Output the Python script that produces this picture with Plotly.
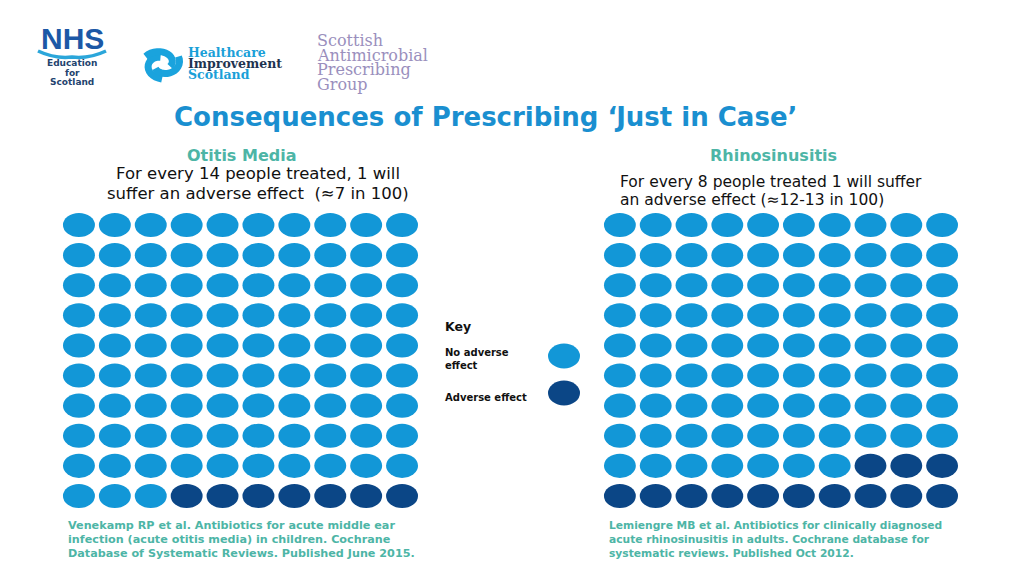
import math
import plotly.graph_objects as go

# page body has an 8px margin: figure is placed at (8, 8)
OFF = 8
W, H = 1024 - OFF, 576 - OFF

# ---------------- data ----------------
grid_rows = 10
grid_cols = 10
otitis_adverse = 7      # about 7 in 100
rhino_adverse = 13      # about 12-13 in 100
panel_titles = ["Otitis Media", "Rhinosinusitis"]
panel_texts = [
    ["For every 14 people treated, 1 will", "suffer an adverse effect  (≈7 in 100)"],
    ["For every 8 people treated 1 will suffer", "an adverse effect (≈12-13 in 100)"],
]
references = [
    ["Venekamp RP et al. Antibiotics for acute middle ear",
     "infection (acute otitis media) in children. Cochrane",
     "Database of Systematic Reviews. Published June 2015."],
    ["Lemiengre MB et al. Antibiotics for clinically diagnosed",
     "acute rhinosinusitis in adults. Cochrane database for",
     "systematic reviews. Published Oct 2012."],
]
key_labels = ["No adverse<br>effect", "Adverse effect"]
title_text = "Consequences of Prescribing ‘Just in Case’"

# ---------------- styles ----------------
LIGHT = "#1297d7"
DARK = "#0b4686"
TITLE_BLUE = "#1a8fd0"
TEAL = "#4db5a6"
FONT = "DejaVu Sans"


def px(x):
    return (x - OFF) / W


def py(y):
    return 1 - (y - OFF) / H


fig = go.Figure()

fig.update_layout(
    width=W, height=H,
    margin=dict(l=0, r=0, t=0, b=0),
    paper_bgcolor="white", plot_bgcolor="white",
    showlegend=False,
    xaxis=dict(domain=[px(61), px(420)], range=[-0.5, grid_cols - 0.5], visible=False, fixedrange=True),
    yaxis=dict(domain=[py(511), py(210)], range=[grid_rows - 0.5, -0.5], visible=False, fixedrange=True),
    xaxis2=dict(domain=[px(602), px(960)], range=[-0.5, grid_cols - 0.5], visible=False, fixedrange=True, anchor="y2"),
    yaxis2=dict(domain=[py(511), py(210)], range=[grid_rows - 0.5, -0.5], visible=False, fixedrange=True, anchor="x2"),
)

shapes = []
for (xr, yr, n_adv, name) in [("x", "y", otitis_adverse, panel_titles[0]),
                              ("x2", "y2", rhino_adverse, panel_titles[1])]:
    total = grid_rows * grid_cols
    xs, ys, cols, txt = [], [], [], []
    for i in range(total):
        r, c = divmod(i, grid_cols)
        adverse = i >= total - n_adv
        col = DARK if adverse else LIGHT
        xs.append(c)
        ys.append(r)
        cols.append(col)
        txt.append("Adverse effect" if adverse else "No adverse effect")
        shapes.append(dict(type="circle", xref=xr, yref=yr,
                           x0=c - 0.445, x1=c + 0.445, y0=r - 0.4, y1=r + 0.4,
                           fillcolor=col, line=dict(width=0), layer="above"))
    fig.add_trace(go.Scatter(x=xs, y=ys, xaxis=xr, yaxis=yr, mode="markers",
                             marker=dict(size=26, color=cols, opacity=0),
                             text=txt, name=name, hoverinfo="text"))

# key circles
for yc, col in [(356, LIGHT), (393, DARK)]:
    shapes.append(dict(type="circle", xref="paper", yref="paper",
                       x0=px(548), x1=px(580), y0=py(yc + 12.5), y1=py(yc - 12.5),
                       fillcolor=col, line=dict(width=0)))

# NHS wave
shapes.append(dict(type="path", xref="paper", yref="paper",
                   path=(f"M{px(38)},{py(51)} Q{px(55)},{py(59)} {px(72)},{py(57)} "
                         f"Q{px(89)},{py(59)} {px(106)},{py(51)}"),
                   line=dict(color="#2ba6da", width=3.5)))

# HIS triskelion approximation (stretched horizontally)
cx, cy, RX, RY = 162, 64, 19, 15
for k in range(3):
    a0 = math.radians(100 + 120 * k)
    a1 = a0 + math.radians(170)
    pts = []
    for t in range(17):
        a = a0 + (a1 - a0) * t / 16
        f = 0.45 + 0.55 * t / 16
        pts.append((cx + RX * f * math.cos(a), cy - RY * f * math.sin(a)))
    path = "M" + " L".join(f"{px(x)},{py(y)}" for x, y in pts)
    shapes.append(dict(type="path", xref="paper", yref="paper", path=path,
                       line=dict(color="#1aa3dd", width=7)))

fig.update_layout(shapes=shapes)

ann = []


def text(x, y, s, size, color, bold=False, family=FONT, xanchor="left", align="left"):
    ann.append(dict(x=px(x), y=py(y), xref="paper", yref="paper", text=f"<b>{s}</b>" if bold else s,
                    showarrow=False, xanchor=xanchor, yanchor="middle", align=align,
                    font=dict(size=size, color=color, family=family)))


# logos
text(72, 38, "NHS", 30, "#1c58a6", bold=True, family="Liberation Sans", xanchor="center")
for i, s in enumerate(["Education", "for", "Scotland"]):
    text(72, 62.5 + i * 10, s, 9, "#23436e", bold=True, family="DejaVu Sans", xanchor="center")
his_cols = ["#1aa0d8", "#1e3350", "#1aa0d8"]
for i, s in enumerate(["Healthcare", "Improvement", "Scotland"]):
    text(186, 52.5 + i * 11, s, 12.5, his_cols[i], bold=True, family="DejaVu Serif")
for i, s in enumerate(["Scottish", "Antimicrobial", "Prescribing", "Group"]):
    text(315, 41 + i * 14.5, s, 16, "#9a8fbd", family="DejaVu Serif")

# title
text(485, 117, title_text, 26, TITLE_BLUE, bold=True, xanchor="center")

# panel headings and texts
text(241, 155, panel_titles[0], 16, TEAL, bold=True, xanchor="center")
text(258, 174, panel_texts[0][0], 16.5, "#111111", xanchor="center")
text(258, 193, panel_texts[0][1], 16.5, "#111111", xanchor="center")
text(773, 155, panel_titles[1], 16, TEAL, bold=True, xanchor="center")
text(618, 182, panel_texts[1][0], 15.5, "#111111")
text(618, 200, panel_texts[1][1], 15.5, "#111111")

# key
text(443, 326, "Key", 12.5, "#111111", bold=True)
ann.append(dict(x=px(443), y=py(359), xref="paper", yref="paper", text=f"<b>{key_labels[0]}</b>",
                showarrow=False, xanchor="left", yanchor="middle", align="left",
                font=dict(size=10, color="#111111", family=FONT)))
text(443, 397, key_labels[1], 10, "#111111", bold=True)

# references
for j, (x0, fs) in enumerate([(66, 11.2), (607, 10.7)]):
    for i, s in enumerate(references[j]):
        text(x0, 525 + i * 14, s, fs, TEAL, bold=True)

fig.update_layout(annotations=ann)

fig.write_html("out.html", config={"displayModeBar": False})
